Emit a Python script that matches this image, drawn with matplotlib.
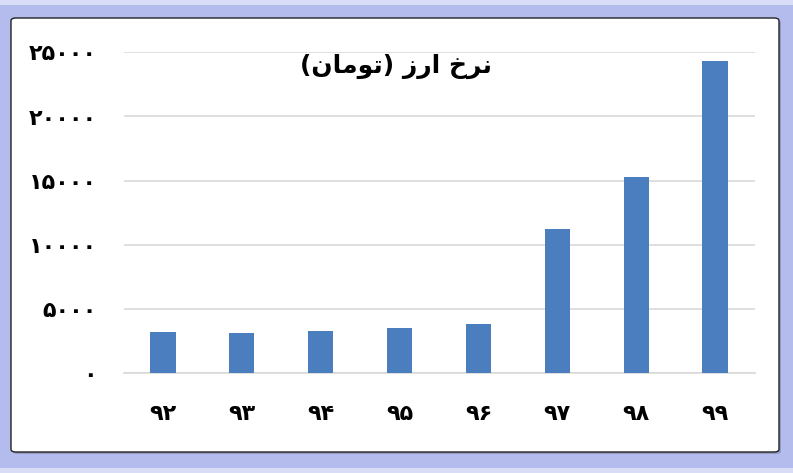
import numpy as np
import matplotlib.pyplot as plt
from matplotlib.patches import FancyBboxPatch, Rectangle

# Exchange rate per year (toman)
years = [92, 93, 94, 95, 96, 97, 98, 99]
rates = [3190, 3120, 3290, 3500, 3810, 11220, 15270, 24350]
y_ticks = [0, 5000, 10000, 15000, 20000, 25000]
title_words = ['نرخ', 'ارز', '(تومان)']

BAR_COLOR = '#4a7ebf'
GRID_COLOR = '#d9d9d9'
BG = '#b3bcec'

FA_DIGITS = str.maketrans('0123456789', '۰۱۲۳۴۵۶۷۸۹')

# presentation forms: isolated, final, initial, medial
FORMS = {
    'ن': ('\uFEE5', '\uFEE6', '\uFEE7', '\uFEE8'),
    'ر': ('\uFEAD', '\uFEAE', None, None),
    'خ': ('\uFEA5', '\uFEA6', '\uFEA7', '\uFEA8'),
    'ا': ('\uFE8D', '\uFE8E', None, None),
    'ز': ('\uFEAF', '\uFEB0', None, None),
    'ت': ('\uFE95', '\uFE96', '\uFE97', '\uFE98'),
    'و': ('\uFEED', '\uFEEE', None, None),
    'م': ('\uFEE1', '\uFEE2', '\uFEE3', '\uFEE4'),
}


def shape(word):
    out = []
    for i, ch in enumerate(word):
        if ch not in FORMS:
            out.append(ch)
            continue
        prev = word[i - 1] if i > 0 else None
        nxt = word[i + 1] if i + 1 < len(word) else None
        join_prev = prev in FORMS and FORMS[prev][2] is not None
        join_next = FORMS[ch][2] is not None and nxt in FORMS
        if join_prev and join_next:
            out.append(FORMS[ch][3])
        elif join_prev:
            out.append(FORMS[ch][1])
        elif join_next:
            out.append(FORMS[ch][2])
        else:
            out.append(FORMS[ch][0])
    return ''.join(out)


def rtl(words):
    s = ' '.join(shape(w) for w in words)[::-1]
    return s.translate(str.maketrans('()', ')('))


fig = plt.figure(figsize=(7.93, 4.73), dpi=100)
fig.patch.set_facecolor(BG)

# light strips at top and bottom of the frame
fig.add_artist(Rectangle((0, 1 - 5 / 473), 1, 5 / 473, transform=fig.transFigure,
                         facecolor='#d9ddf6', edgecolor='none', zorder=0))
fig.add_artist(Rectangle((0, 0), 1, 5 / 473, transform=fig.transFigure,
                         facecolor='#d9ddf6', edgecolor='none', zorder=0))

# white panel with shadow
px, py, pw, ph = 11 / 793, (473 - 452) / 473, 768 / 793, 434 / 473
fig.add_artist(FancyBboxPatch((px + 2 / 793, py - 2 / 473), pw, ph,
                              boxstyle='round,pad=0,rounding_size=0.006',
                              transform=fig.transFigure, facecolor='#7f86a8',
                              edgecolor='none', alpha=0.6, zorder=1))
fig.add_artist(FancyBboxPatch((px, py), pw, ph,
                              boxstyle='round,pad=0,rounding_size=0.006',
                              transform=fig.transFigure, facecolor='white',
                              edgecolor='#222222', linewidth=1.0, zorder=2))

ax = fig.add_axes([123.5 / 793, 99.7 / 473, 631 / 793, 321 / 473], zorder=3)
ax.patch.set_alpha(0)

x = np.arange(len(years))
ax.bar(x, rates, width=0.32, color=BAR_COLOR, zorder=3)

ax.set_xlim(-0.5, len(years) - 0.5)
ax.set_ylim(0, 25000)
ax.set_yticks(y_ticks)
ax.set_yticklabels([str(v).translate(FA_DIGITS) for v in y_ticks])
ax.set_xticks(x)
ax.set_xticklabels([str(v).translate(FA_DIGITS) for v in years])

ax.yaxis.grid(True, color=GRID_COLOR, linewidth=1.2, zorder=0)
ax.set_axisbelow(True)
for side in ['top', 'right', 'left']:
    ax.spines[side].set_visible(False)
ax.spines['bottom'].set_color(GRID_COLOR)
ax.spines['bottom'].set_linewidth(1.2)
ax.tick_params(axis='both', length=0, labelsize=16)
ax.tick_params(axis='y', pad=19)
ax.tick_params(axis='x', pad=22)
for lbl in ax.get_xticklabels() + ax.get_yticklabels():
    lbl.set_fontweight('bold')
    lbl.set_family('DejaVu Sans')

fig.text(396 / 793, 1 - 66 / 473, rtl(title_words), ha='center', va='center',
         fontsize=18, fontweight='bold', family='DejaVu Sans', zorder=4)

fig.savefig('out.png', dpi=100, facecolor=fig.get_facecolor())
